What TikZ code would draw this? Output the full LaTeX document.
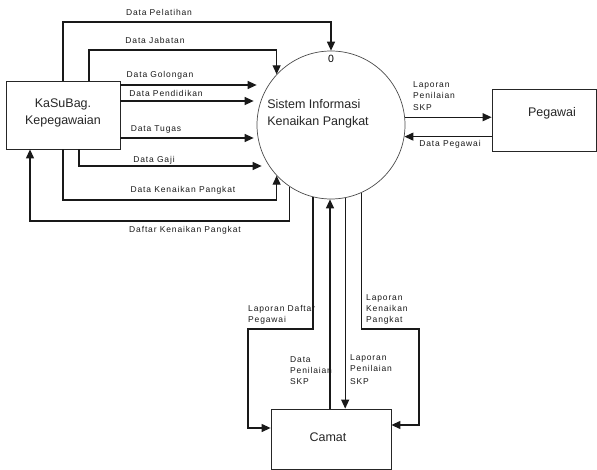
\documentclass[tikz,border=0pt]{standalone}
\usepackage{fontspec}
\setmainfont{Liberation Sans}
\newfontfamily\lblfont[LetterSpace=10]{Liberation Sans}
\usetikzlibrary{arrows.meta,calc}
\tikzset{
  ent/.style={draw=black!85, line width=0.8pt, fill=white, font=\fontsize{12.5}{15}\selectfont, align=center, inner sep=0pt},
  proc/.style={circle, draw=black!70, line width=0.7pt, fill=white, minimum size=148pt, inner sep=0pt},
  flow/.style={draw=black!90, line width=1.2pt, -{Triangle[length=9pt,width=8pt]}},
  lbl/.style={font=\lblfont\fontsize{8.5}{11}\selectfont, text=black!90, inner sep=0pt},
  lbll/.style={lbl, align=left, anchor=north west},
  main/.style={font=\fontsize{12.5}{16.5}\selectfont, text=black!85, inner sep=0pt}
}
\begin{document}
\begin{tikzpicture}[x=1pt,y=-1pt]
\useasboundingbox (0,0) rectangle (597,470);
% entities
\node[ent, minimum width=114pt, minimum height=68pt] (kas) at (63,115) {};
\node[main, align=center] (kastext) at (63,113) {KaSuBag.\\Kepegawaian};
\node[ent, minimum width=104pt, minimum height=62pt] (peg) at (544,120) {};
\node[main] (pegtext) at (552,113) {Pegawai};
\node[ent, minimum width=120pt, minimum height=60pt] (cam) at (331,439) {};
\node[main] (camtext) at (328,437) {Camat};
% process
\node[proc] (sys) at (331,125) {};
\node[main, align=left] (systext) at (318,114) {Sistem Informasi\\Kenaikan Pangkat};
\node[font=\fontsize{10.5}{12}\selectfont, inner sep=0pt] (zero) at (331,59) {0};

% flows from KaSuBag
\draw[flow] (kas.north) |- (sys.north |- 0,22) -- (sys.north);
\node[lbl] (l1) at (159,12) {Data Pelatihan};
\draw[flow] ([xshift=26pt]kas.north) |- (sys.137 |- 0,50) -- (sys.137);
\node[lbl] (l2) at (155,40) {Data Jabatan};
\draw[flow] (kas.east |- 0,85) -- (sys.west |- 0,85);
\node[lbl] (l3) at (160,75) {Data Golongan};
\draw[flow] (kas.east |- 0,101) -- ([xshift=-3pt]sys.west |- 0,101);
\node[lbl] (l4) at (166,93) {Data Pendidikan};
\draw[flow] (kas.east |- 0,138) -- ([xshift=-3pt]sys.west |- 0,138);
\node[lbl] (l5) at (156,129) {Data Tugas};
\draw[flow] ([xshift=16pt]kas.south) |- ([xshift=5pt]sys.west |- 0,166);
\node[lbl] (l6) at (154,160) {Data Gaji};
\draw[flow] (kas.south) |- (sys.223 |- 0,200) -- (sys.223);
\node[lbl] (l7) at (183,190) {Data Kenaikan Pangkat};
\draw[flow] (sys.236) |- (30,221) -- (kas.south -| 30,221);
\node[lbl] (l8) at (185,230) {Daftar Kenaikan Pangkat};

% Pegawai
\draw[flow] (sys.6) -- (peg.west |- sys.6);
\node[lbll] (l9) at (413,81) {Laporan\\Penilaian\\[1pt]SKP};
\draw[flow] (peg.west |- sys.351.5) -- (sys.351.5);
\node[lbl] (l10) at (450,144) {Data Pegawai};

% Camat
\draw[flow] (sys.256.7) |- (248,329) |- (cam.west |- 0,428);
\node[lbll] (l11) at (248,305) {Laporan Daftar\\Pegawai};
\draw[flow] ([xshift=-1pt]cam.north) -- ([xshift=-1pt]sys.south);
\node[lbll] (l12) at (290,356) {Data\\Penilaian\\SKP};
\draw[flow] (sys.281.7) -- (cam.north -| sys.281.7);
\node[lbll] (l13) at (350,354) {Laporan\\Penilaian\\[2pt]SKP};
\draw[flow] (sys.294.8) |- (419,329) |- (cam.east |- 0,425);
\node[lbll] (l14) at (366,294) {Laporan\\Kenaikan\\Pangkat};
\end{tikzpicture}
\end{document}
